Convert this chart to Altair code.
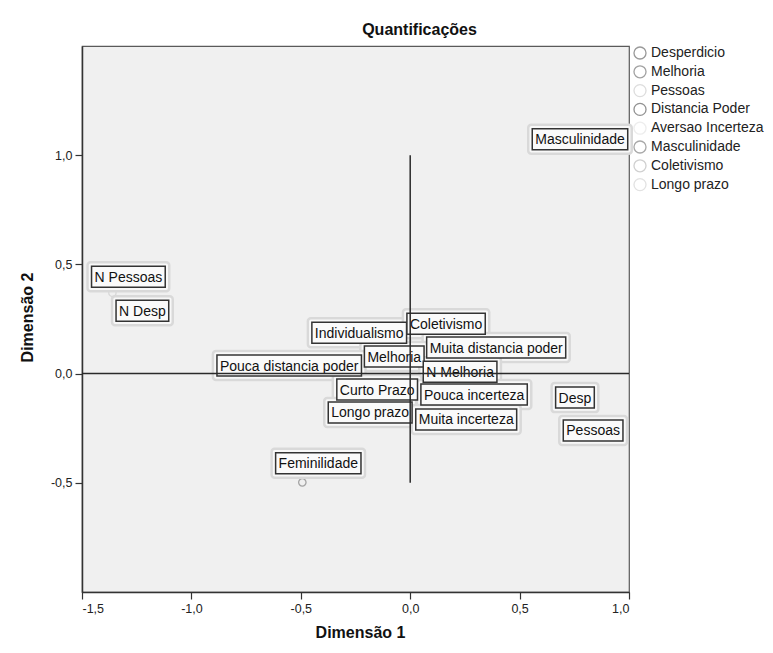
import altair as alt
import pandas as pd

# ---- data ----
labels = ["Masculinidade", "N Pessoas", "N Desp", "Individualismo", "Coletivismo",
          "Muita distancia poder", "Melhoria", "Pouca distancia poder", "N Melhoria",
          "Curto Prazo", "Pouca incerteza", "Longo prazo", "Muita incerteza",
          "Desp", "Pessoas", "Feminilidade"]
variables = ["Masculinidade", "Pessoas", "Desperdicio", "Coletivismo", "Coletivismo",
             "Distancia Poder", "Melhoria", "Distancia Poder", "Melhoria",
             "Longo prazo", "Aversao Incerteza", "Longo prazo", "Aversao Incerteza",
             "Desperdicio", "Pessoas", "Masculinidade"]
label_x = [0.776, -1.288, -1.224, -0.233, 0.164, 0.393, -0.073, -0.553, 0.228,
           -0.151, 0.292, -0.183, 0.256, 0.753, 0.836, -0.420]
label_y = [1.073, 0.443, 0.288, 0.187, 0.228, 0.119, 0.078, 0.037, 0.009,
           -0.073, -0.096, -0.178, -0.210, -0.110, -0.260, -0.411]
point_x = [0.776, -1.361, -1.224, -0.233, 0.164, 0.393, -0.073, -0.553, 0.228,
           -0.151, 0.292, -0.183, 0.256, 0.753, 0.836, -0.493]
point_y = [1.073, 0.370, 0.288, 0.187, 0.228, 0.119, 0.078, 0.037, 0.009,
           -0.073, -0.096, -0.178, -0.210, -0.110, -0.260, -0.498]

legend_order = ["Desperdicio", "Melhoria", "Pessoas", "Distancia Poder",
                "Aversao Incerteza", "Masculinidade", "Coletivismo", "Longo prazo"]
legend_colors = ["#6e6e6e", "#7a7a7a", "#cfcfcf", "#646464",
                 "#e6e6e6", "#858585", "#bdbdbd", "#d6d6d6"]

x_ticks = [-1.5, -1.0, -0.5, 0.0, 0.5, 1.0]
y_ticks = [-0.5, 0.0, 0.5, 1.0]
x_domain = [-1.5, 1.0]
y_domain = [-1.0, 1.5]

# ---- layout constants ----
W, H = 547, 546
FONT = "Liberation Sans"
LABEL_SIZE = 14
PAD = 3  # px padding inside label boxes

arial = {' ': 278, 'a': 556, 'b': 556, 'c': 500, 'd': 556, 'e': 556, 'f': 278, 'g': 556,
         'h': 556, 'i': 222, 'j': 222, 'k': 500, 'l': 222, 'm': 833, 'n': 556, 'o': 556,
         'p': 556, 'q': 556, 'r': 333, 's': 500, 't': 278, 'u': 556, 'v': 500, 'w': 722,
         'x': 500, 'y': 500, 'z': 500, 'C': 722, 'D': 722, 'F': 611, 'I': 278, 'L': 556,
         'M': 833, 'N': 722, 'P': 667}


def text_px(s, size):
    return sum(arial.get(c, 556) for c in s) * size / 1000.0


kx = W / (x_domain[1] - x_domain[0])
ky = H / (y_domain[1] - y_domain[0])

rows = []
for lab, var, lx, ly, px, py in zip(labels, variables, label_x, label_y, point_x, point_y):
    hw = (text_px(lab, LABEL_SIZE) / 2 + PAD) / kx
    hh = 10.5 / ky
    rows.append(dict(label=lab, variable=var, lx=lx, ly=ly, px=px, py=py,
                     x0=lx - hw, x1=lx + hw, y0=ly - hh, y1=ly + hh))
df = pd.DataFrame(rows)

num_expr = "(datum.value < 0 ? '-' : '') + replace(format(abs(datum.value), '.1f'), '.', ',')"

xscale = alt.Scale(domain=x_domain, nice=False, zero=False)
yscale = alt.Scale(domain=y_domain, nice=False, zero=False)

xaxis = alt.Axis(values=x_ticks, labelExpr=num_expr, grid=False, tickSize=7,
                 domainColor="#333333", tickColor="#333333", domainWidth=1.5, tickWidth=1.2,
                 labelFont=FONT, labelFontSize=12.5, labelColor="#222222", labelPadding=3,
                 title="Dimensão 1", titleFont=FONT, titleFontSize=16, titleFontWeight="bold",
                 titleColor="#111111", titleX=278, titleY=40, titleAlign="center",
                 titleBaseline="middle")
yaxis = alt.Axis(values=y_ticks, labelExpr=num_expr, grid=False, tickSize=7,
                 domainColor="#333333", tickColor="#333333", domainWidth=1.5, tickWidth=1.2,
                 labelFont=FONT, labelFontSize=12.5, labelColor="#222222", labelPadding=3,
                 title="Dimensão 2", titleFont=FONT, titleFontSize=16, titleFontWeight="bold",
                 titleColor="#111111", titleX=-55, titleY=271, titleAngle=270,
                 titleAlign="center", titleBaseline="middle")


def X(field):
    return alt.X(field, type="quantitative", scale=xscale, axis=xaxis)


def Y(field):
    return alt.Y(field, type="quantitative", scale=yscale, axis=yaxis)


base = alt.Chart(df)

points = base.mark_point(shape="circle", filled=False, size=55, strokeWidth=1.3).encode(
    x=X("px"), y=Y("py"),
    color=alt.Color("variable:N",
                    scale=alt.Scale(domain=legend_order, range=legend_colors),
                    legend=alt.Legend(orient="none", legendX=551, legendY=0, title=None,
                                      symbolType="circle", symbolSize=145,
                                      symbolStrokeWidth=1.3, symbolFillColor="transparent",
                                      labelFont=FONT, labelFontSize=14, labelColor="#222222",
                                      labelOffset=4, rowPadding=0.8, padding=0)),
)

halo = base.mark_rect(fill="#f8f8f8", stroke="#d9d9d9", strokeWidth=2.5, cornerRadius=3,
                      xOffset=-4, x2Offset=4, yOffset=4, y2Offset=-4).encode(
    x=X("x0"), x2="x1", y=Y("y0"), y2="y1")

box = base.mark_rect(fill="#fafafa", stroke="#333333", strokeWidth=1.5).encode(
    x=X("x0"), x2="x1", y=Y("y0"), y2="y1")

text = base.mark_text(font=FONT, fontSize=LABEL_SIZE, color="#111111", align="center",
                      baseline="middle", dy=1).encode(
    x=X("lx"), y=Y("ly"), text="label:N")

vline_df = pd.DataFrame({"x": [0.0], "y": [-0.5], "y2": [1.0]})
hline_df = pd.DataFrame({"y": [0.0], "x": [x_domain[0]], "x2": [x_domain[1]]})

vline = alt.Chart(vline_df).mark_rule(color="#2a2a2a", strokeWidth=1.5).encode(
    x=X("x"), y=Y("y"), y2="y2")
hline = alt.Chart(hline_df).mark_rule(color="#2a2a2a", strokeWidth=1.5).encode(
    y=Y("y"), x=X("x"), x2="x2")

chart = alt.layer(points, halo, box, text, vline, hline).properties(
    width=W, height=H,
    title=alt.TitleParams("Quantificações", font=FONT, fontSize=16, fontWeight="bold",
                          color="#111111", anchor="middle", dx=64, offset=8),
    padding={"left": 74, "top": 38, "right": 136, "bottom": 50},
    autosize=alt.AutoSizeParams(type="none"),
).configure(
    background="white",
    view=alt.ViewConfig(fill="#f0f0f0", stroke="#5a5a5a", strokeWidth=1.2),
)

chart.save("out.html", embed_options={"renderer": "svg", "actions": False})
